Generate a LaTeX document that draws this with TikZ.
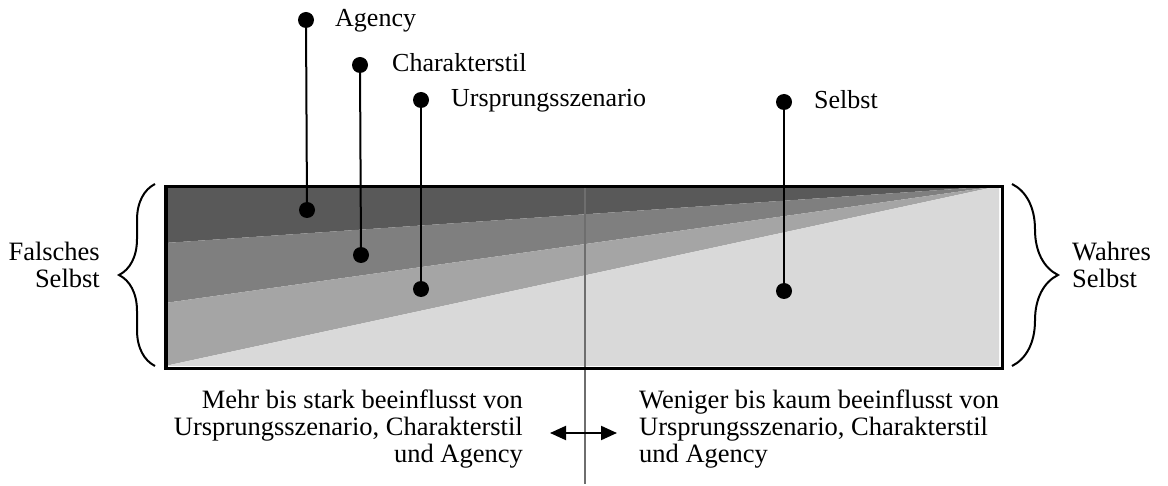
\documentclass[tikz,border=0pt]{standalone}
\usepackage{fontspec}
\setmainfont{Liberation Serif}
\usetikzlibrary{arrows.meta,decorations.pathreplacing}
\definecolor{cA}{HTML}{595959}
\definecolor{cB}{HTML}{7F7F7F}
\definecolor{cC}{HTML}{A5A5A5}
\definecolor{cD}{HTML}{D9D9D9}
\definecolor{cLine}{HTML}{6E6E6E}
\begin{document}
\begin{tikzpicture}[x=1pt,y=-1pt,
  dot/.style={circle,fill=black,inner sep=0pt,minimum size=16pt},
  lab/.style={anchor=base west,inner sep=0pt,font=\fontsize{26}{27}\selectfont},
  txt/.style={inner sep=0pt,font=\fontsize{26.5}{27}\selectfont},
  stem/.style={line width=2pt},
  bracestyle/.style={line width=2pt,decorate,decoration={brace,amplitude=#1}}
]
\useasboundingbox (0,0) rectangle (1168,486);
% bands
\fill[cA] (165,186) -- (999,186) -- (165,243) -- cycle;
\fill[cB] (165,243) -- (999,186) -- (165,303) -- cycle;
\fill[cC] (165,303) -- (999,186) -- (165,366) -- cycle;
\fill[cD] (165,366) -- (999,186) -- (999,366) -- cycle;
% middle divider
\coordinate (mtop) at (585,185);
\coordinate (mbot) at (585,484);
\draw[cLine,line width=2pt] (mtop) -- (mbot);
% frame
\node[draw,line width=3.5pt,inner sep=0pt,minimum width=836.5pt,minimum height=182pt,anchor=north west] (frame) at (164,185) {};
% dots and stems
\node[dot] (a1) at (306,20) {};
\node[dot] (a2) at (307,210) {};
\node[dot] (c1) at (360,65) {};
\node[dot] (c2) at (361,255) {};
\node[dot] (u1) at (421,100) {};
\node[dot] (u2) at (421,289) {};
\node[dot] (s1) at (784,102) {};
\node[dot] (s2) at (784,291) {};
\draw[stem] (a1) -- (a2);
\draw[stem] (c1) -- (c2);
\draw[stem] (u1) -- (u2);
\draw[stem] (s1) -- (s2);
\node[lab] (la) at (335,27) {Agency};
\node[lab] (lc) at (392,72) {Charakterstil};
\node[lab] (lu) at (451,107) {Ursprungsszenario};
\node[lab] (ls) at (814,109) {Selbst};
% braces
\draw[bracestyle=36pt] (155,366) -- (155,184);
\draw[bracestyle=46pt] (1012,184) -- (1012,366);
\node[txt,anchor=base east,align=right] (fs) at (100,288) {Falsches\\Selbst};
\node[txt,anchor=base west,align=left] (ws) at (1072,288) {Wahres\\Selbst};
% bottom texts
\node[txt,anchor=base east,align=right] (lt) at (523,462) {Mehr bis stark beeinflusst von\\Ursprungsszenario, Charakterstil\\und Agency};
\node[txt,anchor=base west,align=left] (rt) at (639,462) {Weniger bis kaum beeinflusst von\\Ursprungsszenario, Charakterstil\\und Agency};
% arrow
\coordinate (arL) at (550,433);
\coordinate (arR) at (617,433);
\draw[line width=2pt,{Triangle[length=16pt,width=14pt]}-{Triangle[length=16pt,width=14pt]}] (arL) -- (arR);
\end{tikzpicture}
\end{document}
